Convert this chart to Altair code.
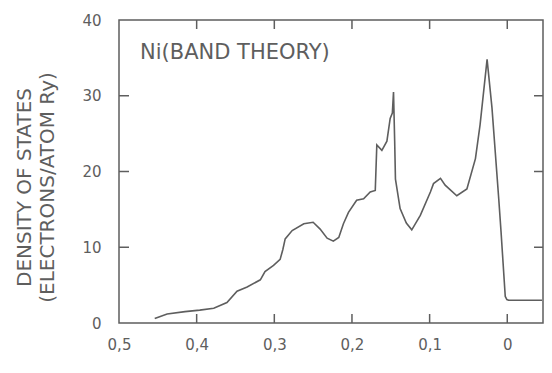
import altair as alt
import pandas as pd

# Energy below Fermi level (Ry) and density of states (electrons/atom Ry)
energy = [0.454, 0.438, 0.415, 0.396, 0.378, 0.361, 0.348, 0.335, 0.318, 0.312,
          0.301, 0.2925, 0.289, 0.286, 0.277, 0.262, 0.250, 0.241, 0.232, 0.224,
          0.217, 0.211, 0.2045, 0.194, 0.185, 0.1765, 0.170, 0.168, 0.1615, 0.155,
          0.1508, 0.148, 0.1465, 0.145, 0.144, 0.138, 0.130, 0.123, 0.112, 0.099,
          0.095, 0.086, 0.080, 0.065, 0.052, 0.041, 0.035, 0.026, 0.0197, 0.011,
          0.008, 0.0026, 0.0005, -0.0017, -0.0447]
dos = [0.6, 1.2, 1.5, 1.7, 1.95, 2.7, 4.2, 4.75, 5.7, 6.8,
       7.6, 8.4, 9.7, 11.1, 12.2, 13.1, 13.3, 12.4, 11.2, 10.8,
       11.3, 13.1, 14.6, 16.2, 16.4, 17.3, 17.5, 23.5, 22.8, 24.0,
       27.0, 27.7, 30.5, 24.0, 19.0, 15.1, 13.2, 12.3, 14.2, 17.3,
       18.4, 19.1, 18.2, 16.8, 17.7, 21.7, 26.2, 34.8, 28.4, 16.4,
       12.0, 3.5, 3.1, 3.0, 3.0]

x_ticks = [0.5, 0.4, 0.3, 0.2, 0.1, 0.0]
y_ticks = [0, 10, 20, 30, 40]
inner_x_ticks = [0.4, 0.3, 0.2, 0.1, 0.0]
inner_y_ticks = [10, 20, 30]
panel_label = ["Ni(BAND THEORY)"]
y_title = ["DENSITY OF STATES", "(ELECTRONS/ATOM Ry)"]

W, H = 424, 303
INK = "#5e5e5e"
FONT = "DejaVu Sans"
TL = 9  # inward tick length

xscale = alt.Scale(domain=[-0.046, 0.5], reverse=True, nice=False, zero=False)
yscale = alt.Scale(domain=[0, 40], nice=False, zero=False)

x_axis = alt.Axis(values=x_ticks, ticks=False, domain=False, grid=False,
                  labelExpr="datum.value == 0 ? '0' : replace(format(datum.value, '.1f'), '.', ',')",
                  labelPadding=14, labelFlush=False, title=None)
y_axis = alt.Axis(values=y_ticks, ticks=False, domain=False, grid=False,
                  labelPadding=18, labelFlush=False, labelBaseline="middle",
                  title=y_title, titleAngle=270, titleX=-95, titleY=167,
                  titleAlign="center", titleBaseline="middle",
                  titleLineHeight=23, titleFontSize=20,
                  titleFontWeight="normal", titleColor=INK, titleFont=FONT)

df = pd.DataFrame({"E": energy, "DOS": dos, "i": list(range(len(energy)))})

line = alt.Chart(df).mark_line(color=INK, strokeWidth=1.6).encode(
    x=alt.X("E:Q", scale=xscale, axis=x_axis),
    y=alt.Y("DOS:Q", scale=yscale, axis=y_axis),
    order="i:Q",
)

xt = pd.DataFrame({"E": inner_x_ticks})
yt = pd.DataFrame({"DOS": inner_y_ticks})

bottom_ticks = alt.Chart(xt).mark_rule(color=INK, strokeWidth=1.5).encode(
    x=alt.X("E:Q", scale=xscale, axis=x_axis), y=alt.value(H), y2=alt.value(H - TL))
top_ticks = alt.Chart(xt).mark_rule(color=INK, strokeWidth=1.5).encode(
    x=alt.X("E:Q", scale=xscale, axis=x_axis), y=alt.value(0), y2=alt.value(TL))
left_ticks = alt.Chart(yt).mark_rule(color=INK, strokeWidth=1.5).encode(
    y=alt.Y("DOS:Q", scale=yscale, axis=y_axis), x=alt.value(0), x2=alt.value(TL + 1))
right_ticks = alt.Chart(yt).mark_rule(color=INK, strokeWidth=1.5).encode(
    y=alt.Y("DOS:Q", scale=yscale, axis=y_axis), x=alt.value(W), x2=alt.value(W - TL))

label = alt.Chart(pd.DataFrame({"t": panel_label})).mark_text(
    align="left", baseline="middle", fontSize=21, color=INK, font=FONT
).encode(x=alt.value(21), y=alt.value(33), text="t:N")

chart = alt.layer(line, bottom_ticks, top_ticks, left_ticks, right_ticks, label).properties(
    width=W, height=H,
    padding={"left": 119, "top": 20, "right": 9, "bottom": 50},
    autosize=alt.AutoSizeParams(type="none"),
    background="white",
).configure_view(stroke=INK, strokeWidth=1.5).configure_axis(
    labelFont=FONT, labelColor=INK, labelFontSize=15,
)

chart.save("out.html", embed_options={"renderer": "svg", "actions": False})
